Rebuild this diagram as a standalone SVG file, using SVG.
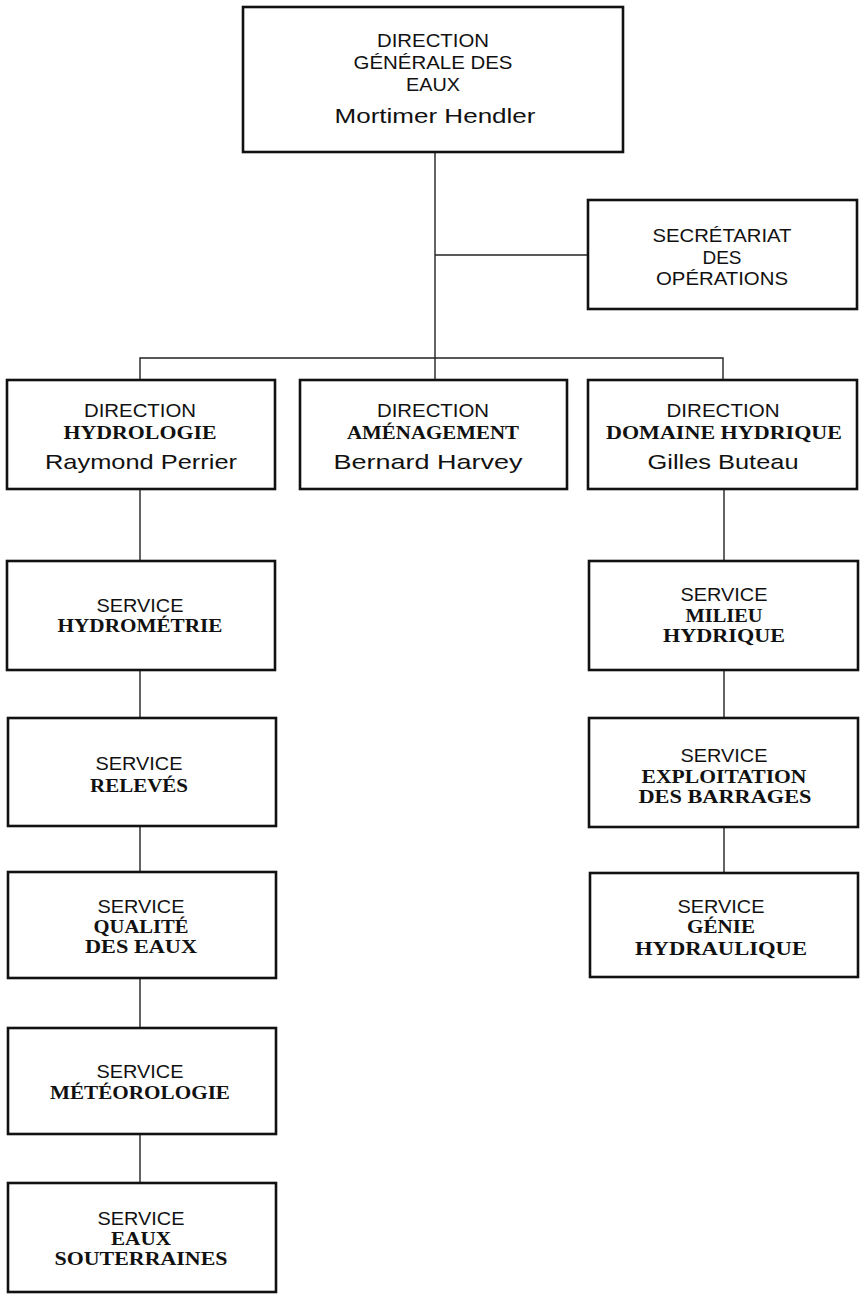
<svg xmlns="http://www.w3.org/2000/svg" width="861" height="1295" viewBox="0 0 861 1295">
  <style>
    .box { fill: #ffffff; stroke: #111111; stroke-width: 2.6; }
    .link { fill: none; stroke: #222222; stroke-width: 1.4; }
    text { fill: #111111; text-anchor: middle; }
    .reg { font-family: "Liberation Sans", "DejaVu Sans", sans-serif; font-size: 18.5px; }
    .name { font-family: "Liberation Sans", "DejaVu Sans", sans-serif; font-size: 21px; }
    .bold { font-family: "Liberation Serif", "DejaVu Serif", serif; font-weight: bold; font-size: 19px; }
  </style>
  <rect width="861" height="1295" fill="#ffffff"/>

  <!-- connectors -->
  <g id="connectors">
    <path class="link" d="M435 152 V380"/>
    <path class="link" d="M435 255 H588"/>
    <path class="link" d="M140 380 V358 H723 V380"/>
    <path class="link" d="M140 489 V561"/>
    <path class="link" d="M140 670 V718"/>
    <path class="link" d="M140 826 V872"/>
    <path class="link" d="M140 978 V1028"/>
    <path class="link" d="M140 1134 V1183"/>
    <path class="link" d="M724 489 V561"/>
    <path class="link" d="M724 670 V718"/>
    <path class="link" d="M724 827 V873"/>
  </g>

  <!-- top level -->
  <g id="direction-generale">
    <rect class="box" x="243" y="7" width="380" height="145"/>
    <text class="reg" x="433" y="47" textLength="112" lengthAdjust="spacingAndGlyphs">DIRECTION</text>
    <text class="reg" x="433" y="69" textLength="159" lengthAdjust="spacingAndGlyphs">GÉNÉRALE DES</text>
    <text class="reg" x="433" y="91" textLength="54" lengthAdjust="spacingAndGlyphs">EAUX</text>
    <text class="name" x="435" y="123" textLength="201" lengthAdjust="spacingAndGlyphs">Mortimer Hendler</text>
  </g>

  <g id="secretariat">
    <rect class="box" x="588" y="200" width="269" height="109"/>
    <text class="reg" x="722" y="242" textLength="139" lengthAdjust="spacingAndGlyphs">SECRÉTARIAT</text>
    <text class="reg" x="722" y="264" textLength="39" lengthAdjust="spacingAndGlyphs">DES</text>
    <text class="reg" x="722" y="285" textLength="132" lengthAdjust="spacingAndGlyphs">OPÉRATIONS</text>
  </g>

  <!-- directions -->
  <g id="dir-hydrologie">
    <rect class="box" x="7" y="380" width="268" height="109"/>
    <text class="reg" x="140" y="417" textLength="112" lengthAdjust="spacingAndGlyphs">DIRECTION</text>
    <text class="bold" x="140" y="439" textLength="153" lengthAdjust="spacingAndGlyphs">HYDROLOGIE</text>
    <text class="name" x="141" y="469" textLength="192" lengthAdjust="spacingAndGlyphs">Raymond Perrier</text>
  </g>

  <g id="dir-amenagement">
    <rect class="box" x="300" y="380" width="267" height="109"/>
    <text class="reg" x="433" y="417" textLength="112" lengthAdjust="spacingAndGlyphs">DIRECTION</text>
    <text class="bold" x="433" y="439" textLength="172" lengthAdjust="spacingAndGlyphs">AMÉNAGEMENT</text>
    <text class="name" x="428" y="469" textLength="189" lengthAdjust="spacingAndGlyphs">Bernard Harvey</text>
  </g>

  <g id="dir-domaine-hydrique">
    <rect class="box" x="588" y="380" width="269" height="109"/>
    <text class="reg" x="723" y="417" textLength="113" lengthAdjust="spacingAndGlyphs">DIRECTION</text>
    <text class="bold" x="724" y="439" textLength="236" lengthAdjust="spacingAndGlyphs">DOMAINE HYDRIQUE</text>
    <text class="name" x="723" y="469" textLength="151" lengthAdjust="spacingAndGlyphs">Gilles Buteau</text>
  </g>

  <!-- services under Hydrologie -->
  <g id="svc-hydrometrie">
    <rect class="box" x="7" y="561" width="268" height="109"/>
    <text class="reg" x="140" y="612" textLength="87" lengthAdjust="spacingAndGlyphs">SERVICE</text>
    <text class="bold" x="140" y="632" textLength="165" lengthAdjust="spacingAndGlyphs">HYDROMÉTRIE</text>
  </g>

  <g id="svc-releves">
    <rect class="box" x="8" y="718" width="268" height="108"/>
    <text class="reg" x="139" y="770" textLength="87" lengthAdjust="spacingAndGlyphs">SERVICE</text>
    <text class="bold" x="139" y="792" textLength="98" lengthAdjust="spacingAndGlyphs">RELEVÉS</text>
  </g>

  <g id="svc-qualite">
    <rect class="box" x="8" y="872" width="268" height="106"/>
    <text class="reg" x="141" y="913" textLength="87" lengthAdjust="spacingAndGlyphs">SERVICE</text>
    <text class="bold" x="141" y="933" textLength="95" lengthAdjust="spacingAndGlyphs">QUALITÉ</text>
    <text class="bold" x="141" y="953" textLength="112" lengthAdjust="spacingAndGlyphs">DES EAUX</text>
  </g>

  <g id="svc-meteorologie">
    <rect class="box" x="8" y="1028" width="268" height="106"/>
    <text class="reg" x="140" y="1078" textLength="87" lengthAdjust="spacingAndGlyphs">SERVICE</text>
    <text class="bold" x="140" y="1099" textLength="180" lengthAdjust="spacingAndGlyphs">MÉTÉOROLOGIE</text>
  </g>

  <g id="svc-eaux-souterraines">
    <rect class="box" x="8" y="1183" width="268" height="109"/>
    <text class="reg" x="141" y="1225" textLength="87" lengthAdjust="spacingAndGlyphs">SERVICE</text>
    <text class="bold" x="141" y="1245" textLength="60" lengthAdjust="spacingAndGlyphs">EAUX</text>
    <text class="bold" x="141" y="1265" textLength="173" lengthAdjust="spacingAndGlyphs">SOUTERRAINES</text>
  </g>

  <!-- services under Domaine hydrique -->
  <g id="svc-milieu-hydrique">
    <rect class="box" x="589" y="561" width="269" height="109"/>
    <text class="reg" x="724" y="601" textLength="87" lengthAdjust="spacingAndGlyphs">SERVICE</text>
    <text class="bold" x="724" y="622" textLength="77" lengthAdjust="spacingAndGlyphs">MILIEU</text>
    <text class="bold" x="724" y="642" textLength="122" lengthAdjust="spacingAndGlyphs">HYDRIQUE</text>
  </g>

  <g id="svc-exploitation">
    <rect class="box" x="589" y="718" width="269" height="109"/>
    <text class="reg" x="724" y="762" textLength="87" lengthAdjust="spacingAndGlyphs">SERVICE</text>
    <text class="bold" x="724" y="783" textLength="165" lengthAdjust="spacingAndGlyphs">EXPLOITATION</text>
    <text class="bold" x="725" y="803" textLength="173" lengthAdjust="spacingAndGlyphs">DES BARRAGES</text>
  </g>

  <g id="svc-genie-hydraulique">
    <rect class="box" x="590" y="873" width="268" height="104"/>
    <text class="reg" x="721" y="913" textLength="87" lengthAdjust="spacingAndGlyphs">SERVICE</text>
    <text class="bold" x="721" y="933" textLength="68" lengthAdjust="spacingAndGlyphs">GÉNIE</text>
    <text class="bold" x="721" y="955" textLength="172" lengthAdjust="spacingAndGlyphs">HYDRAULIQUE</text>
  </g>
</svg>
